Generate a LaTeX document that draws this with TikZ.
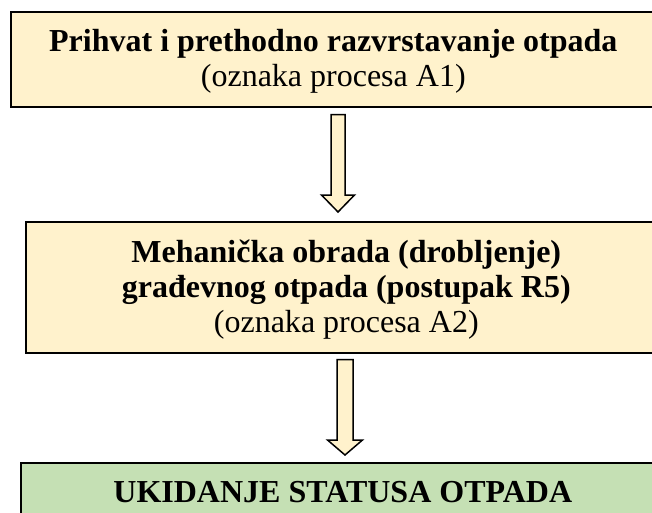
\documentclass[tikz,border=0pt]{standalone}
\usepackage{fontspec}
\setmainfont{Liberation Serif}
\usetikzlibrary{calc}
\definecolor{zuta}{HTML}{FFF2CC}
\definecolor{zelena}{HTML}{C5E0B4}
\tikzset{
  procbox/.style={draw=black, line width=1.6pt, fill=zuta, anchor=north west,
    align=center, inner sep=0pt, font=\fontsize{32}{35}\selectfont},
  endbox/.style={procbox, fill=zelena},
  strelica/.style={draw=black, line width=1.5pt, fill=zuta, line join=miter}
}
% block arrow: from, to, half shaft, half head, head length
\newcommand{\fatarrow}[5]{%
  \filldraw[strelica] let \p1=(#1), \p2=(#2) in
    (\x1-#3pt,\y1) -- (\x1+#3pt,\y1) -- (\x1+#3pt,\y2+#5pt) -- (\x1+#4pt,\y2+#5pt)
    -- (\x1,\y2) -- (\x1-#4pt,\y2+#5pt) -- (\x1-#3pt,\y2+#5pt) -- cycle;}
\newcommand{\gornji}{\rule{0pt}{27pt}}
\begin{document}
\begin{tikzpicture}[x=1pt,y=-1pt]
                \clip (0,0) rectangle (652,513);

                \node[procbox, minimum width=645, minimum height=95] (prihvat) at (10,11)
                    {\gornji\textbf{Prihvat i prethodno razvrstavanje otpada}\\(oznaka procesa A1)};
                \node[procbox, minimum width=641, minimum height=131] (obrada) at (25,221)
                    {\gornji\textbf{Mehanička obrada (drobljenje)}\\\textbf{građevnog otpada (postupak R5)}\\(oznaka procesa A2)};
                \node[endbox, minimum width=644, minimum height=59] (ukidanje) at (20,462)
                    {\textbf{UKIDANJE STATUSA OTPADA}};

                \coordinate (a1top) at ($(prihvat.south west)+(328,7)$);
                \coordinate (a1tip) at ($(obrada.north west)+(313,-9)$);
                \coordinate (a2top) at ($(obrada.south west)+(320,6)$);
                \coordinate (a2tip) at ($(ukidanje.north west)+(325,-7)$);

                \fatarrow{a1top}{a1tip}{7}{16.5}{17}
                \fatarrow{a2top}{a2tip}{8}{17.5}{15}
            \end{tikzpicture}
\end{document}
